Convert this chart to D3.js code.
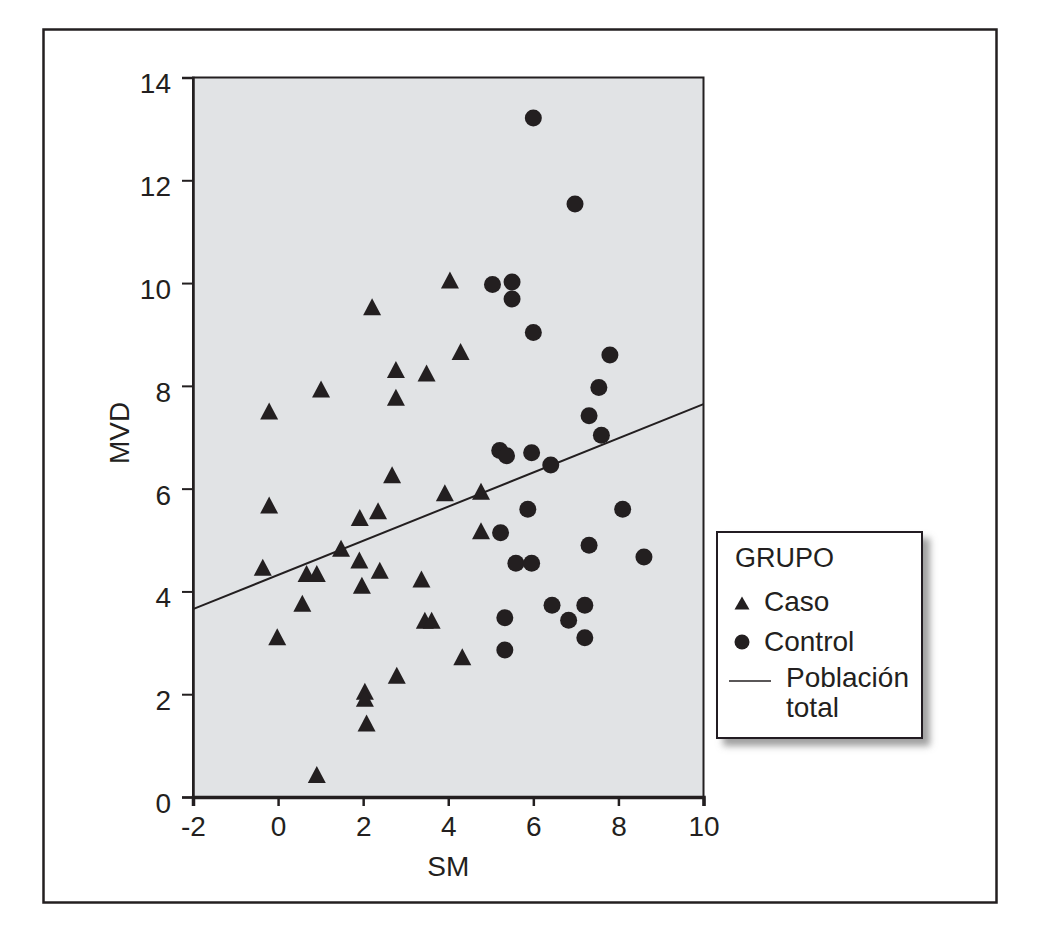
<!DOCTYPE html>
<html>
<head>
<meta charset="utf-8">
<script src="https://cdn.jsdelivr.net/npm/d3@7"></script>
<style>
  body { margin: 0; background: #fff; }
  text { font-family: "Liberation Sans", Arial, Helvetica, sans-serif; fill: #231f20; }
</style>
</head>
<body>
<div id="chart"></div>
<script>
var svgWidth = 1041;
var svgHeight = 933;

// Caso (triangles)
var casoSM  = [4.04, 2.21, 1.01, -0.21, 2.77, 3.49, 2.77, 4.29, -0.21, 2.68, 3.92, 4.77, 2.35, 1.92, 4.77, 1.48, -0.36,
               1.91, 0.67, 0.91, 2.39, 1.97, 3.37, 0.57, -0.02, 3.45, 3.61, 4.33, 2.79, 2.04, 2.04, 2.08, 0.91];
var casoMVD = [10.06, 9.54, 7.94, 7.51, 8.32, 8.25, 7.78, 8.67, 5.68, 6.27, 5.92, 5.95, 5.57, 5.44, 5.18, 4.84, 4.47,
               4.61, 4.35, 4.35, 4.41, 4.12, 4.24, 3.77, 3.12, 3.44, 3.44, 2.73, 2.37, 2.06, 1.92, 1.44, 0.44];

// Control (circles)
var controlSM  = [6.00, 6.98, 5.04, 5.50, 5.50, 6.00, 7.80, 7.54, 7.31, 7.60, 5.21, 5.37, 5.96, 6.41, 5.87, 8.10, 5.23,
                  7.31, 8.60, 5.59, 5.96, 6.44, 7.21, 6.83, 7.21, 5.33, 5.33];
var controlMVD = [13.21, 11.54, 9.97, 10.02, 9.69, 9.04, 8.60, 7.97, 7.42, 7.04, 6.74, 6.64, 6.70, 6.46, 5.60, 5.60, 5.14,
                  4.90, 4.67, 4.55, 4.55, 3.73, 3.73, 3.44, 3.10, 3.49, 2.86];

// Población total fit line
var fitIntercept = 4.32;
var fitSlope = 0.3325;

var xTicks = [-2, 0, 2, 4, 6, 8, 10];
var yTicks = [0, 2, 4, 6, 8, 10, 12, 14];
var legendLabels = ["Caso", "Control"];

var plot = { left: 193, right: 703.5, top: 77.5, bottom: 797 };

var svg = d3.select("#chart")
  .append("svg")
  .attr("width", svgWidth)
  .attr("height", svgHeight);

var defs = svg.append("defs");
var shadow = defs.append("filter").attr("id", "shadow")
  .attr("x", "-10%").attr("y", "-10%").attr("width", "130%").attr("height", "130%");
shadow.append("feDropShadow")
  .attr("dx", 7).attr("dy", 7).attr("stdDeviation", 3.5)
  .attr("flood-color", "#808080").attr("flood-opacity", 0.75);

// outer frame
svg.append("rect")
  .attr("x", 43.5).attr("y", 29.5)
  .attr("width", 953).attr("height", 873)
  .attr("fill", "none")
  .attr("stroke", "#231f20")
  .attr("stroke-width", 2.5);

var x = d3.scaleLinear().domain([-2, 10]).range([plot.left, plot.right]);
var y = d3.scaleLinear().domain([0, 14]).range([plot.bottom, plot.top]);

// plot background
svg.append("rect")
  .attr("x", plot.left).attr("y", plot.top)
  .attr("width", plot.right - plot.left).attr("height", plot.bottom - plot.top)
  .attr("fill", "#e1e3e5")
  .attr("stroke", "#231f20")
  .attr("stroke-width", 2);

// axes (plain hyphen for negatives, like the original)
var bottomAxis = d3.axisBottom(x).tickValues(xTicks).tickSize(9).tickPadding(10).tickFormat(d => String(d));
var leftAxis = d3.axisLeft(y).tickValues(yTicks).tickSize(11).tickPadding(11).tickFormat(d => String(d));

var gx = svg.append("g")
  .attr("transform", `translate(0, ${plot.bottom})`)
  .call(bottomAxis);
gx.select(".domain").attr("stroke", "#231f20").attr("stroke-width", 3.5);
gx.selectAll(".tick line").attr("stroke", "#231f20").attr("stroke-width", 2.5);
gx.selectAll(".tick text")
  .attr("font-size", "28px")
  .attr("font-family", "'Liberation Sans', Arial, sans-serif")
  .attr("fill", "#231f20");

var gy = svg.append("g")
  .attr("transform", `translate(${plot.left}, 0)`)
  .call(leftAxis);
gy.select(".domain").attr("stroke", "#231f20").attr("stroke-width", 2.5);
gy.selectAll(".tick line").attr("stroke", "#231f20").attr("stroke-width", 2);
gy.selectAll(".tick text")
  .attr("font-size", "28px")
  .attr("font-family", "'Liberation Sans', Arial, sans-serif")
  .attr("fill", "#231f20")
  .attr("dy", "0.55em");

// axis titles
svg.append("text")
  .attr("x", (plot.left + plot.right) / 2)
  .attr("y", 876)
  .attr("text-anchor", "middle")
  .attr("font-size", "28px")
  .text("SM");

svg.append("text")
  .attr("transform", "translate(129, 433) rotate(-90)")
  .attr("text-anchor", "middle")
  .attr("font-size", "28px")
  .text("MVD");

// fit line
svg.append("line")
  .attr("x1", x(-2)).attr("y1", y(fitIntercept + fitSlope * -2))
  .attr("x2", x(10)).attr("y2", y(fitIntercept + fitSlope * 10))
  .attr("stroke", "#231f20")
  .attr("stroke-width", 2);

function triPath(w, h) {
  return `M0,${-h / 2}L${w / 2},${h / 2}L${-w / 2},${h / 2}Z`;
}

var casoData = casoSM.map((d, i) => ({ sm: d, mvd: casoMVD[i] }));
var controlData = controlSM.map((d, i) => ({ sm: d, mvd: controlMVD[i] }));

svg.append("g").selectAll("circle")
  .data(controlData)
  .enter().append("circle")
  .attr("cx", d => x(d.sm))
  .attr("cy", d => y(d.mvd))
  .attr("r", 8.5)
  .attr("fill", "#231f20");

svg.append("g").selectAll("path")
  .data(casoData)
  .enter().append("path")
  .attr("transform", d => `translate(${x(d.sm)}, ${y(d.mvd)})`)
  .attr("d", triPath(18, 17))
  .attr("fill", "#231f20");

// legend
var legend = svg.append("g");
legend.append("rect")
  .attr("x", 717).attr("y", 532)
  .attr("width", 205).attr("height", 206)
  .attr("fill", "#fff")
  .attr("stroke", "#231f20")
  .attr("stroke-width", 2)
  .attr("filter", "url(#shadow)");

legend.append("text")
  .attr("x", 735).attr("y", 567)
  .attr("font-size", "27px")
  .text("GRUPO");

legend.append("path")
  .attr("transform", "translate(742, 603)")
  .attr("d", triPath(15, 13))
  .attr("fill", "#231f20");
legend.append("text")
  .attr("x", 764).attr("y", 611)
  .attr("font-size", "28px")
  .text(legendLabels[0]);

legend.append("circle")
  .attr("cx", 742).attr("cy", 642)
  .attr("r", 7.5)
  .attr("fill", "#231f20");
legend.append("text")
  .attr("x", 764).attr("y", 651)
  .attr("font-size", "28px")
  .text(legendLabels[1]);

legend.append("line")
  .attr("x1", 729).attr("x2", 771)
  .attr("y1", 681).attr("y2", 681)
  .attr("stroke", "#231f20")
  .attr("stroke-width", 1.5);
legend.append("text")
  .attr("x", 786).attr("y", 687)
  .attr("font-size", "28px")
  .text("Población");
legend.append("text")
  .attr("x", 786).attr("y", 717)
  .attr("font-size", "28px")
  .text("total");
</script>
</body>
</html>
